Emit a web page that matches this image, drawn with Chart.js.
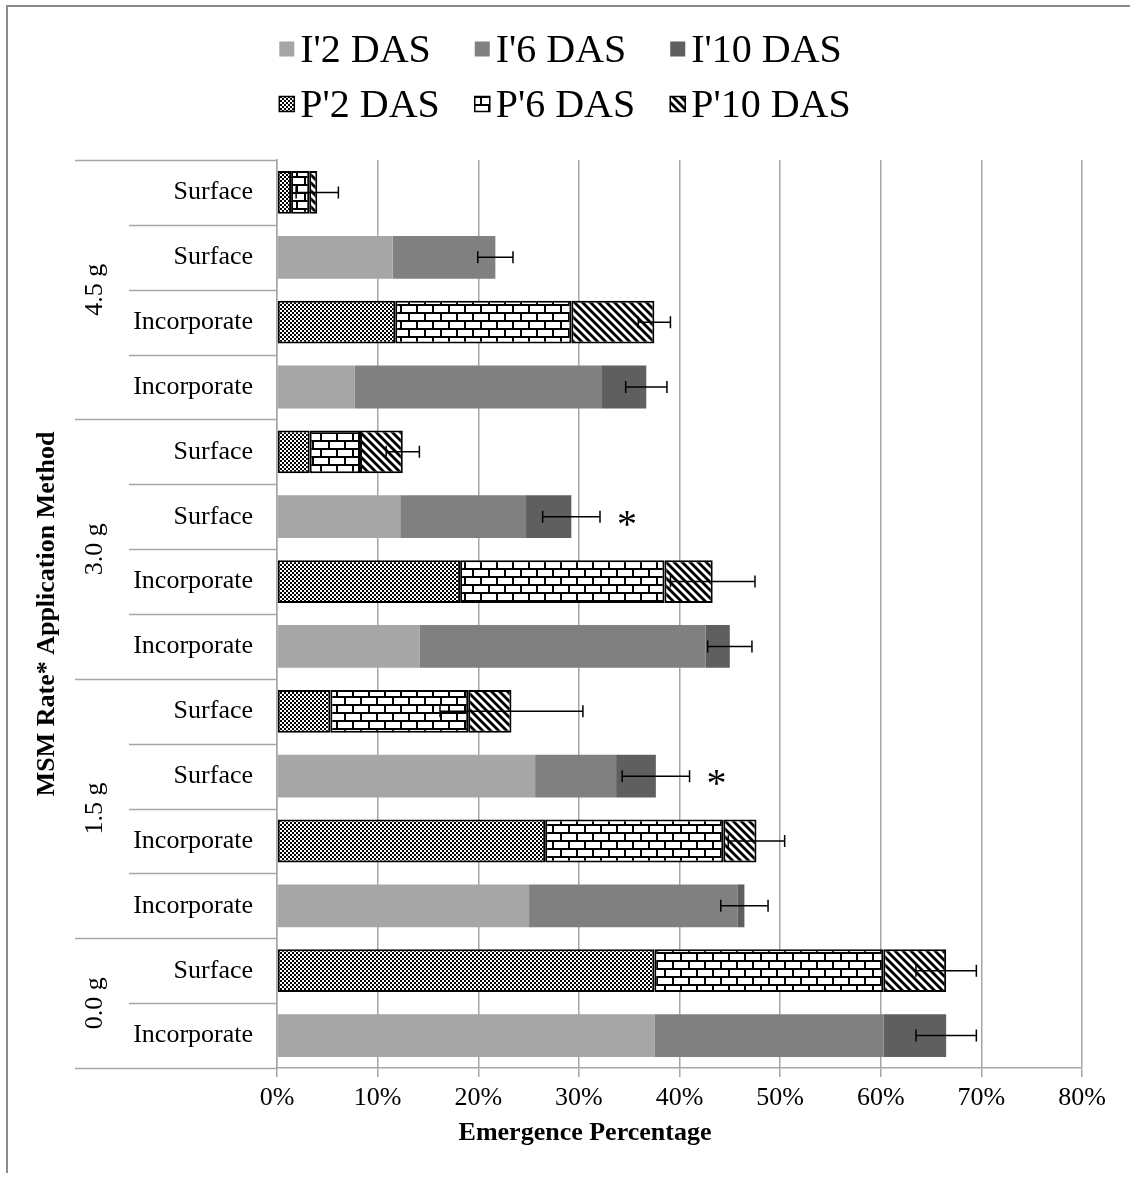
<!DOCTYPE html>
<html>
<head>
<meta charset="utf-8">
<script src="https://cdn.jsdelivr.net/npm/chart.js@4.4.1/dist/chart.umd.min.js"></script>
<style>
  html, body { margin: 0; padding: 0; background: #fff; }
  #wrap { width: 1130px; height: 1184px; position: relative; }
</style>
</head>
<body>
<div id="wrap"><canvas id="chart"></canvas></div>
<script>
const FONT = '"Liberation Serif", "Times New Roman", Times, serif';

// Rows from top to bottom
const methods = ['Surface', 'Surface', 'Incorporate', 'Incorporate',
                 'Surface', 'Surface', 'Incorporate', 'Incorporate',
                 'Surface', 'Surface', 'Incorporate', 'Incorporate',
                 'Surface', 'Incorporate'];
const rateGroups = ['4.5 g', '3.0 g', '1.5 g', '0.0 g'];
const groupSizes = [4, 4, 4, 2];

// Emergence (%) per interval, incorporated series (solid) and placed series (patterned)
const i2  = [null, 11.5, null, 7.7,  null, 12.25, null, 14.2, null, 25.65, null, 25.05, null, 37.5];
const i6  = [null, 10.2, null, 24.6, null, 12.5,  null, 28.4, null, 8.05,  null, 20.7,  null, 22.8];
const i10 = [null, 0,    null, 4.4,  null, 4.5,   null, 2.4,  null, 3.95,  null, 0.7,   null, 6.2];
const p2  = [1.4,  null, 11.75, null, 3.25, null, 18.2, null, 5.3,  null, 26.65, null, 37.5,  null];
const p6  = [1.8,  null, 17.5,  null, 5.0,  null, 20.3, null, 13.7, null, 17.7,  null, 22.75, null];
const p10 = [0.8,  null, 8.25,  null, 4.25, null, 4.8,  null, 4.3,  null, 3.3,   null, 6.25,  null];

// Error margin on each row total, and significance marks
const errorMargins = [2.1, 1.75, 1.6, 2.05, 1.65, 2.85, 4.2, 2.2, 7.1, 3.35, 2.8, 2.35, 3.0, 3.0];
const significance = ['', '', '', '', '', '*', '', '', '', '*', '', '', '', ''];

const seriesNames = ["I'2 DAS", "I'6 DAS", "I'10 DAS", "P'2 DAS", "P'6 DAS", "P'10 DAS"];
const xMax = 80;
const xStep = 10;
const xTitle = 'Emergence Percentage';
const yTitle = 'MSM Rate* Application Method';

function makePattern(kind) {
  const c = document.createElement('canvas');
  const g = c.getContext('2d');
  if (kind === 'checker') {
    c.width = 4; c.height = 4;
    g.fillStyle = '#fff'; g.fillRect(0, 0, 4, 4);
    g.fillStyle = '#000';
    g.fillRect(0, 0, 2, 2); g.fillRect(2, 2, 2, 2);
  } else if (kind === 'brick') {
    c.width = 16; c.height = 16;
    g.fillStyle = '#fff'; g.fillRect(0, 0, 16, 16);
    g.fillStyle = '#000';
    g.fillRect(0, 0, 16, 2); g.fillRect(0, 8, 16, 2);
    g.fillRect(0, 0, 2, 8); g.fillRect(8, 8, 2, 8);
  } else {
    c.width = 8; c.height = 8;
    g.fillStyle = '#fff'; g.fillRect(0, 0, 8, 8);
    g.strokeStyle = '#000'; g.lineWidth = 2.8;
    for (let k = -1; k <= 1; k++) {
      g.beginPath(); g.moveTo(-2, -2 + 8 * k); g.lineTo(10, 10 + 8 * k); g.stroke();
    }
  }
  return g.createPattern(c, 'repeat');
}

const fills = ['#a6a6a6', '#808080', '#5f5f5f',
               makePattern('checker'), makePattern('brick'), makePattern('diag')];
const seriesValues = [i2, i6, i10, p2, p6, p10];

const datasets = seriesValues.map((vals, k) => ({
  label: seriesNames[k],
  data: vals,
  backgroundColor: fills[k],
  borderColor: '#000',
  borderWidth: k < 3 ? 0 : 2,
  borderSkipped: false,
  barPercentage: 0.66,
  categoryPercentage: 1.0
}));

function rowTotal(i) {
  return seriesValues.reduce((s, arr) => s + (arr[i] || 0), 0);
}

const decor = {
  id: 'decor',
  beforeDraw(chart) {
    const ctx = chart.ctx;
    ctx.save();
    ctx.fillStyle = '#fff';
    ctx.fillRect(0, 0, chart.width, chart.height);
    ctx.strokeStyle = '#8c8c8c';
    ctx.lineWidth = 2;
    ctx.beginPath();
    ctx.moveTo(7, 1173); ctx.lineTo(7, 6); ctx.lineTo(chart.width, 6);
    ctx.stroke();
    ctx.restore();
  },
  afterDatasetsDraw(chart) {
    const ctx = chart.ctx;
    const xs = chart.scales.x, ys = chart.scales.y;
    ctx.save();
    ctx.strokeStyle = '#000';
    ctx.lineWidth = 1.5;
    methods.forEach((m, i) => {
      const t = rowTotal(i);
      const e = errorMargins[i];
      const y = ys.getPixelForValue(i);
      const x0 = xs.getPixelForValue(t - e), x1 = xs.getPixelForValue(t + e);
      ctx.beginPath();
      ctx.moveTo(x0, y); ctx.lineTo(x1, y);
      ctx.moveTo(x0, y - 6); ctx.lineTo(x0, y + 6);
      ctx.moveTo(x1, y - 6); ctx.lineTo(x1, y + 6);
      ctx.stroke();
      if (significance[i]) {
        ctx.fillStyle = '#000';
        ctx.font = '40px ' + FONT;
        ctx.textAlign = 'center';
        ctx.textBaseline = 'alphabetic';
        ctx.fillText(significance[i], x1 + 27, y + 20);
      }
    });
    ctx.restore();
  },
  afterDraw(chart) {
    const ctx = chart.ctx;
    const ys = chart.scales.y;
    const area = chart.chartArea;
    ctx.save();

    // row and group separators in the category column
    const n = methods.length;
    const edge = k => k === 0 ? area.top : (k === n ? area.bottom
      : (ys.getPixelForValue(k - 1) + ys.getPixelForValue(k)) / 2);
    const groupEdges = [0];
    groupSizes.forEach(s => groupEdges.push(groupEdges[groupEdges.length - 1] + s));
    ctx.strokeStyle = '#a6a6a6';
    ctx.lineWidth = 1.5;
    for (let k = 0; k <= n; k++) {
      const y = Math.round(edge(k)) + 0.5;
      const xStart = groupEdges.includes(k) ? 75 : 129;
      ctx.beginPath(); ctx.moveTo(xStart, y); ctx.lineTo(area.left, y); ctx.stroke();
    }

    // rate group labels
    ctx.fillStyle = '#000';
    ctx.font = '26px ' + FONT;
    ctx.textAlign = 'center';
    ctx.textBaseline = 'middle';
    rateGroups.forEach((g, j) => {
      const yc = (edge(groupEdges[j]) + edge(groupEdges[j + 1])) / 2;
      ctx.save();
      ctx.translate(95, yc);
      ctx.rotate(-Math.PI / 2);
      ctx.fillText(g, 0, 0);
      ctx.restore();
    });

    // horizontal axis title
    ctx.font = 'bold 26px ' + FONT;
    ctx.fillText(xTitle, 585, 1133);

    // legend: two rows of three columns
    ctx.font = '40px ' + FONT;
    const box = 15, gap = 6, colGap = 35;
    const rows = [[0, 1, 2], [3, 4, 5]];
    const colW = [0, 1, 2].map(c => Math.max(...rows.map(r =>
      box + gap + ctx.measureText(seriesNames[r[c]]).width)));
    const total = colW.reduce((a, b) => a + b, 0) + colGap * 2;
    const startX = 565 - total / 2;
    const rowY = [49, 104];
    rows.forEach((r, ri) => {
      let x = startX;
      r.forEach((k, c) => {
        const yc = rowY[ri];
        ctx.fillStyle = fills[k];
        ctx.fillRect(x, yc - box / 2, box, box);
        if (k >= 3) {
          ctx.strokeStyle = '#000'; ctx.lineWidth = 1.5;
          ctx.strokeRect(x, yc - box / 2, box, box);
        }
        ctx.fillStyle = '#000';
        ctx.textAlign = 'left';
        ctx.textBaseline = 'alphabetic';
        ctx.fillText(seriesNames[k], x + box + gap, yc + 13);
        x += colW[c] + colGap;
      });
    });
    ctx.restore();
  }
};

new Chart(document.getElementById('chart'), {
  type: 'bar',
  data: { labels: methods, datasets },
  options: {
    indexAxis: 'y',
    responsive: true,
    maintainAspectRatio: false,
    animation: false,
    layout: { padding: { top: 160, right: 48, left: 0, bottom: 0 } },
    plugins: { legend: { display: false }, tooltip: { enabled: false } },
    scales: {
      x: {
        stacked: true,
        min: 0, max: xMax,
        ticks: { stepSize: xStep, callback: v => v + '%', color: '#000',
                 font: { family: FONT, size: 26 }, padding: 6, maxRotation: 0 },
        grid: { color: '#a6a6a6', lineWidth: 1.5, tickLength: 9 },
        border: { color: '#a6a6a6', width: 1.5 },
        afterFit: s => { s.height = 116; }
      },
      y: {
        stacked: true,
        ticks: { color: '#000', font: { family: FONT, size: 26 }, padding: 24 },
        grid: { display: false, drawTicks: false },
        border: { display: true, color: '#a6a6a6', width: 1.5 },
        title: { display: true, text: yTitle, color: '#000',
                 font: { family: FONT, size: 26, weight: 'bold' },
                 padding: { top: 32, bottom: 0 } },
        afterFit: s => { s.width = 277; }
      }
    }
  },
  plugins: [decor]
});
</script>
</body>
</html>
